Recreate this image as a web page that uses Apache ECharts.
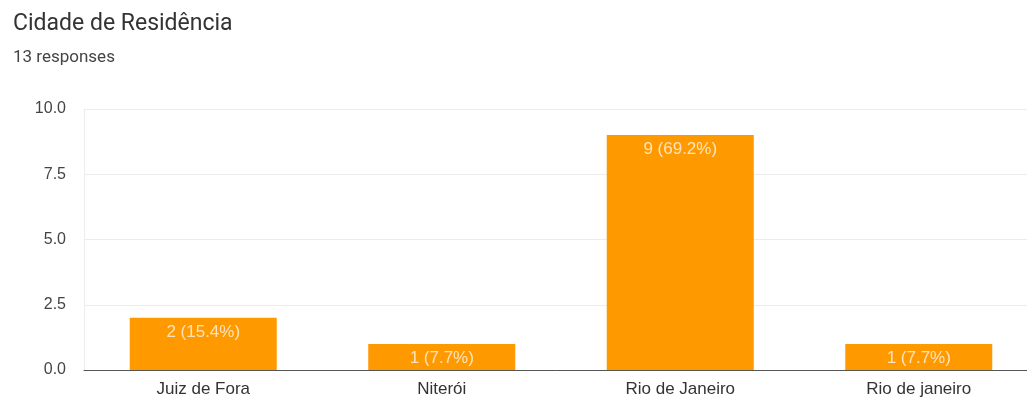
<!DOCTYPE html>
<html><head><meta charset="utf-8">
<script src="https://cdn.jsdelivr.net/npm/echarts@6/dist/echarts.min.js"></script>
<style>html,body{margin:0;padding:0;background:#fff}#c{width:1027px;height:399px}</style>
</head><body><div id="c"></div>
<script>
const categories = ['Juiz de Fora', 'Niterói', 'Rio de Janeiro', 'Rio de janeiro'];
const counts = [2, 1, 9, 1];
const percents = ['15.4%', '7.7%', '69.2%', '7.7%'];
const yTicks = [0, 2.5, 5, 7.5, 10];
const titleText = 'Cidade de Residência';
const subtitleText = '13 responses';

const chart = echarts.init(document.getElementById('c'), null, {renderer: 'canvas'});
chart.setOption({
  animation: false,
  textStyle: {fontFamily: 'Roboto, Arial, sans-serif'},
  title: {
    text: titleText, subtext: subtitleText, left: 8, top: 8, itemGap: 13,
    textStyle: {fontSize: 23, fontWeight: 'normal', color: '#333', fontFamily: 'Roboto'},
    subtextStyle: {fontSize: 17, color: '#444', fontFamily: 'Roboto'}
  },
  grid: {left: 84, right: -11, top: 109, bottom: 29, containLabel: false, outerBoundsMode: 'none'},
  xAxis: {
    type: 'category', data: categories,
    axisLine: {lineStyle: {color: '#555', width: 1}},
    axisTick: {show: false},
    axisLabel: {color: '#333', fontSize: 17, margin: 11, fontFamily: 'Arial, Liberation Sans'}
  },
  yAxis: {
    type: 'value', min: yTicks[0], max: yTicks[yTicks.length - 1], interval: 2.5,
    axisLine: {show: true, lineStyle: {color: '#ececec'}},
    axisTick: {show: false},
    splitLine: {lineStyle: {color: '#ececec'}},
    axisLabel: {color: '#444', fontSize: 16, margin: 18, fontFamily: 'Arial, Liberation Sans',
      formatter: v => v.toFixed(1)}
  },
  series: [{
    type: 'bar', data: counts, barWidth: 147,
    itemStyle: {color: '#ff9900'},
    label: {
      show: true, position: 'insideTop', distance: 6, color: '#fde3bd', fontSize: 17,
      fontFamily: 'Arial, Liberation Sans',
      formatter: p => p.value + ' (' + percents[p.dataIndex] + ')'
    }
  }]
});
</script></body></html>
